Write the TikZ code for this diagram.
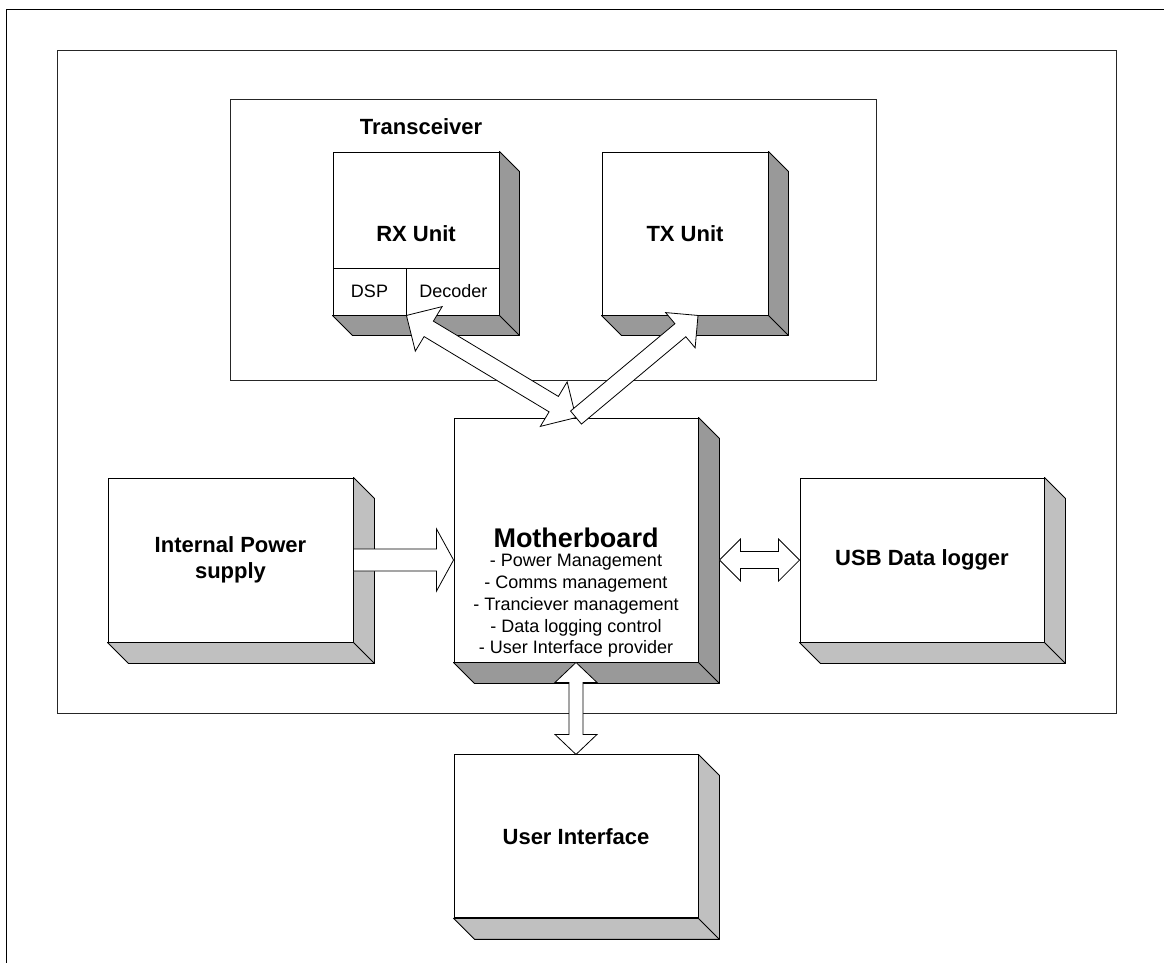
\documentclass[tikz,border=0pt]{standalone}
\usepackage{fontspec}
\setmainfont{Liberation Sans}
\usetikzlibrary{positioning, calc}

\definecolor{darkface}{RGB}{153,153,153}
\definecolor{lightface}{RGB}{192,192,192}

% side and bottom faces of a 3D box
\newcommand{\extrude}[3]{%
    \filldraw[fill=#2, draw=black, line width=0.9pt, line join=round]
        (#1.north east) -- ++(#3,#3) -- ($(#1.south east)+(#3,#3)$)
        -- ($(#1.south west)+(#3,#3)$) -- (#1.south west) -- (#1.south east) -- cycle;
    \draw[line width=0.9pt] (#1.south east) -- ++(#3,#3);
}
% hollow block arrow: tail, tip, shaft half width, head length, head half width
\newcommand{\blockarrow}[5]{%
    \coordinate (bh) at ($(#2)!#4!(#1)$);
    \filldraw[barrow] ($(#1)!#3!-90:(#2)$) -- ($(bh)!#3!90:(#1)$) -- ($(bh)!#5!90:(#1)$)
        -- (#2) -- ($(bh)!#5!-90:(#1)$) -- ($(bh)!#3!-90:(#1)$) -- ($(#1)!#3!90:(#2)$) -- cycle;
}
\newcommand{\dblockarrow}[5]{%
    \coordinate (bh1) at ($(#1)!#4!(#2)$);
    \coordinate (bh2) at ($(#2)!#4!(#1)$);
    \filldraw[barrow] (#1) -- ($(bh1)!#5!-90:(#2)$) -- ($(bh1)!#3!-90:(#2)$)
        -- ($(bh2)!#3!90:(#1)$) -- ($(bh2)!#5!90:(#1)$) -- (#2)
        -- ($(bh2)!#5!-90:(#1)$) -- ($(bh2)!#3!-90:(#1)$)
        -- ($(bh1)!#3!90:(#2)$) -- ($(bh1)!#5!90:(#2)$) -- cycle;
}

\begin{document}
\begin{tikzpicture}[
    x=1pt, y=-1pt,
    frame/.style={
        rectangle,
        draw=black!85,
        line width=1pt,
        inner sep=0pt
    },
    unit/.style={
        rectangle,
        draw,
        fill=white,
        line width=0.9pt,
        inner sep=0pt,
        align=center,
        font=\fontsize{22}{26}\selectfont\bfseries
    },
    subunit/.style={
        rectangle,
        draw,
        fill=white,
        line width=0.9pt,
        inner sep=0pt,
        minimum height=47pt,
        font=\fontsize{18}{22}\selectfont
    },
    barrow/.style={
        fill=white,
        draw=black,
        line width=0.8pt,
        line join=miter
    }
]
    \useasboundingbox (0,0) rectangle (1164,963);

    % Frames
    \draw[line width=1.5pt] (6.5,963) |- (1164,9.5);
    \node[frame, minimum width=1059pt, minimum height=662pt] (sys) at (586.5,382) {};
    \node[frame, minimum width=646pt, minimum height=280pt] (trx) at (553,240) {};
    \node[font=\fontsize{22}{26}\selectfont\bfseries] (trxlabel) at (421,127) {Transceiver};

    % Transceiver units
    \node[unit, minimum width=166pt, minimum height=163pt] (rx) at (416,233.5) {RX Unit};
    \node[subunit, minimum width=73pt, anchor=south west] (dsp) at (rx.south west) {DSP};
    \node[subunit, minimum width=93pt, right=0pt of dsp] (dec) {Decoder};
    \node[unit, minimum width=166pt, minimum height=163pt] (tx) at (685,233.5) {TX Unit};
    \extrude{rx}{darkface}{20}
    \extrude{tx}{darkface}{20}

    % Motherboard
    \node[unit, minimum size=244pt] (mb) at (576,540) {};
    \node[align=center, font=\fontsize{18}{21.75}\selectfont] (mbtext) at (576,593)
        {{\fontsize{27}{27}\selectfont\bfseries Motherboard}\\[-2.75pt]
         - Power Management\\ - Comms management\\ - Tranciever management\\
         - Data logging control\\ - User Interface provider};
    \extrude{mb}{darkface}{21}

    % Peripherals
    \node[unit, minimum width=245pt, minimum height=164pt] (psu) at (230.5,560) {Internal Power\\supply};
    \node[unit, minimum width=244pt, minimum height=164pt] (usb) at (922,560) {USB Data logger};
    \node[unit, minimum width=244pt, minimum height=163pt, below=92pt of mb] (ui) {User Interface};
    \extrude{psu}{lightface}{21}
    \extrude{usb}{lightface}{21}
    \extrude{ui}{lightface}{21}

    % Block arrows
    \coordinate (txin) at ($(tx.south)+(13,0)$);
    \coordinate (mbout) at ($(usb.west -| mb.east)+(21,0)$);

    \blockarrow{psu.east}{psu.east -| mb.west}{11pt}{17pt}{31pt}
    \dblockarrow{mbout}{usb.west}{8.5pt}{21pt}{21pt}
    \dblockarrow{mb.south}{ui.north}{7pt}{20pt}{21pt}
    \dblockarrow{dec.south west}{mb.north}{9pt}{26pt}{26pt}
    \blockarrow{mb.north}{txin}{8.5pt}{23pt}{23pt}
\end{tikzpicture}
\end{document}
